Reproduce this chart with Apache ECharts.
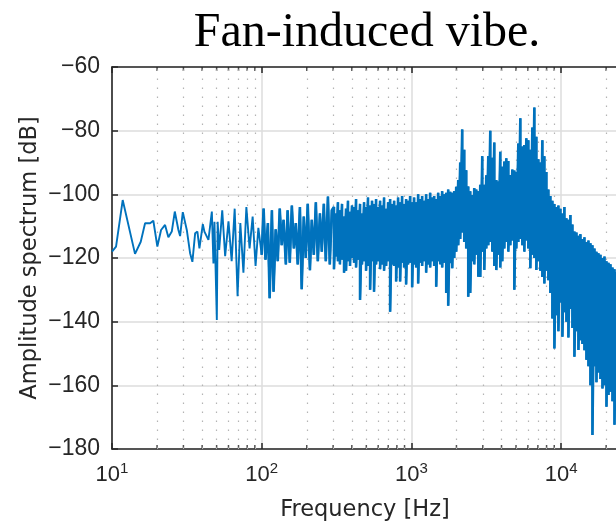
<!DOCTYPE html>
<html><head><meta charset="utf-8">
<script src="https://cdn.jsdelivr.net/npm/echarts@6/dist/echarts.min.js"></script>
<style>html,body{margin:0;padding:0;background:#fff}#c{width:616px;height:525px}</style>
</head><body><div id="c"></div>
<script>
// ---- data ----
const lowFreq = [10, 10.64, 11.79, 14.25, 15.56, 16.63, 17.96, 18.89, 20.09, 21.27, 22.62, 23.8, 25.08, 26.27, 27.77, 28.5, 29.71, 31.6, 33.24, 34.44, 35.93, 37.2, 38.37, 39.38, 40.43, 41.44, 42.55, 44.08, 46.45, 47.6, 48.35, 50.15, 50.8];
const lowAmp = [-118.0, -116.4, -101.8, -118.7, -114.9, -109.1, -109.1, -108.3, -116.4, -111.2, -109.6, -113.5, -111.7, -105.4, -111.2, -113.1, -105.6, -111.2, -118.5, -121.2, -112.2, -111.7, -117, -117, -109.4, -111.7, -112.2, -114.3, -105.4, -121.7, -108.6, -139.5, -108.6];

const midFreqA = [52, 54.5, 57, 60, 63, 66, 69, 72, 75.5, 79, 83, 87, 91, 95];
const midAmpA = [-117.5, -105, -119.4, -108.5, -121, -104.5, -132, -109, -124.6, -104, -117, -107, -122.5, -110.5];

const midFreqB = [100, 103, 106, 110, 113, 117, 120, 124, 128, 132, 136, 140, 145, 149, 154, 159, 164, 169, 174, 180,
  185, 191, 197, 203, 210, 216, 223, 230, 237, 245, 252, 260, 268, 277, 285, 294];
const midAmpB = [-119, -104.5, -120.5, -109, -132.6, -105, -130.6, -111, -121, -104.5, -116, -108, -122, -105, -121.5, -103.5, -117, -109, -122, -104,
  -129.8, -107, -120, -103, -123.8, -108, -119, -102.5, -121, -106, -118, -103, -121, -100.7, -122, -105];

const denseFreq = [304, 313.5, 323, 333, 344, 355, 366, 377, 389, 401,
  414, 427, 440, 454, 468, 483, 498, 513, 530, 546,
  563, 581, 599, 618, 637, 657, 678, 699, 721, 743,
  767, 791, 815, 841, 867, 894, 922, 951, 981, 1012,
  1043, 1076, 1110, 1144, 1180, 1217, 1255, 1295, 1335, 1377,
  1420, 1465, 1510, 1558, 1606, 1657, 1709, 1762, 1817, 1874,
  1933, 1993, 2056, 2120, 2186, 2255, 2325, 2398, 2473, 2551,
  2630, 2713, 2798, 2885, 2975, 3069, 3165, 3264, 3366, 3471,
  3580, 3692, 3807, 3926, 4049, 4176, 4306, 4441, 4580, 4723,
  4871, 5023, 5181, 5343, 5510, 5682, 5860, 6043, 6232, 6428,
  6629, 6836, 7050, 7271, 7498, 7733, 7975, 8224, 8482, 8747,
  9021, 9303, 9594, 9894, 10204, 10523, 10853, 11192, 11543, 11904,
  12276, 12661, 13057, 13465, 13887, 14321, 14769, 15232, 15708, 16200,
  16707, 17229, 17769, 18325, 18898, 19490, 20100, 20729, 21377, 22046,
  22736, 23448, 24181];
const denseHi = [-104, -106, -102.5, -105, -103, -107, -104.5, -102, -105.5, -103.5,
  -104, -101.5, -105, -103, -106, -102.5, -104, -101, -103.5, -102,
  -103, -101.5, -104, -102, -103.5, -101, -104.5, -102.5, -101.5, -103,
  -102, -103.5, -101, -102.5, -100.5, -103, -101.5, -102, -100.5, -102.5,
  -101, -102.5, -100, -101.5, -100.5, -102, -100, -101.5, -99.5, -101,
  -100.5, -101.5, -99.5, -100.5, -99, -100, -99.5, -98.5, -99.2, -99.5,
  -99, -97.6, -95.5, -90, -79.6, -86, -92.4, -97.5, -99, -100.2,
  -98, -98.5, -99, -97, -88, -97, -94, -88, -80, -88.5,
  -83.7, -95.5, -96, -86.6, -91.3, -89.7, -88.7, -89.5, -93.9, -92.2,
  -92.5, -93, -84, -76.1, -85, -84.5, -82.4, -83, -86, -79,
  -72.7, -81.9, -89, -90, -83, -88, -93, -98.5, -100.5, -102,
  -103, -104, -103.5, -104.5, -106, -104, -107.5, -108, -106.5, -109.5,
  -111.7, -112, -113, -112.5, -114, -113.5, -115, -114.5, -115.4, -116,
  -117, -118, -118.5, -119, -120, -119.5, -121, -121.5, -122, -123,
  -123.5, -124.4, -124];
const denseLo = [-123.5, -119.5, -121, -122, -120.5, -124.6, -124, -121, -122.5, -120,
  -121.5, -123, -120.5, -133.2, -122, -121, -124, -122.5, -130, -121,
  -130.6, -122, -121, -123.5, -122, -124, -122.5, -121, -136.9, -122,
  -122.5, -127.4, -123, -127.4, -121.5, -123, -128.3, -122, -121.5, -129.2,
  -122, -123, -128, -121.5, -122.5, -121, -124.6, -122, -123, -121,
  -122.5, -129, -121, -122, -123, -121.5, -131, -135, -121.6, -123.2,
  -120, -118, -116, -114, -112, -115, -117, -132.2, -131, -121,
  -122, -119, -125.9, -126, -118, -123.8, -117, -116, -115, -118,
  -122.5, -123.8, -119, -123, -121, -117, -115, -118, -116, -114.5,
  -130, -117, -115, -114, -116, -118, -114.5, -117, -123.2, -119,
  -120, -123.8, -121, -124, -126, -128, -124, -127, -131, -139,
  -148.4, -138, -143, -134, -144.7, -137, -140, -145, -136, -142,
  -151, -143, -148.9, -145.8, -147, -149, -152, -154, -160, -175.6,
  -154, -159, -156, -158, -161, -160, -166.7, -163, -162, -165,
  -172.4, -168, -170];

const xMajorTicks = [10, 100, 1000, 10000];
const xTickExponents = ['1', '2', '3', '4'];
const xMinorTicks = [20, 30, 40, 50, 60, 70, 80, 90, 200, 300, 400, 500, 600, 700, 800, 900,
  2000, 3000, 4000, 5000, 6000, 7000, 8000, 9000, 20000];
const yTicks = [-180, -160, -140, -120, -100, -80, -60];
const xRange = [10, 24000];

const titleText = 'Fan-induced vibe.';
const xName = 'Frequency [Hz]';
const yName = 'Amplitude spectrum [dB]';

// ---- build series ----
const thickData = [];
midFreqB.forEach((f, i) => thickData.push([f, midAmpB[i]]));
denseFreq.forEach((f, i) => { thickData.push([f, denseHi[i]]); thickData.push([f, denseLo[i]]); });
const lineData = [];
lowFreq.forEach((f, i) => lineData.push([f, lowAmp[i]]));
midFreqA.forEach((f, i) => lineData.push([f, midAmpA[i]]));
thickData.forEach(p => lineData.push(p));

const yMin = yTicks[0], yMax = yTicks[yTicks.length - 1];
const AX = '#262626';
const BLUE = '#0072BD';
const tickFont = 'Liberation Sans';

function xLabel(v) {
  let k = -1;
  xMajorTicks.forEach((t, i) => { if (Math.abs(Math.log10(v / t)) < 0.01) k = i; });
  if (k < 0) return '';
  return '{b|10}{s|' + xTickExponents[k] + '}';
}

const chart = echarts.init(document.getElementById('c'), null, { renderer: 'canvas' });
chart.setOption({
  animation: false,
  backgroundColor: '#fff',
  title: {
    text: titleText, left: 362, top: 4, textAlign: 'center',
    textStyle: { fontFamily: 'Liberation Serif', fontSize: 48, fontWeight: 'normal', color: '#000' }
  },
  grid: { left: 112, top: 67, width: 506, height: 382, outerBoundsMode: 'none', containLabel: false },
  xAxis: [{
    type: 'log', logBase: 10, min: xRange[0], max: xRange[1], position: 'bottom',
    axisLine: { show: true, lineStyle: { color: AX, width: 1.6 } },
    axisTick: { show: true, inside: true, length: 6, lineStyle: { color: AX, width: 1.5 } },
    splitLine: { show: true, lineStyle: { color: '#dcdcdc', width: 1.5 } },
    axisLabel: {
      margin: 12, formatter: xLabel,
      rich: {
        b: { fontFamily: tickFont, fontSize: 22, color: AX },
        s: { fontFamily: tickFont, fontSize: 15, color: AX, padding: [0, 0, 12, 0] }
      }
    },
    name: xName, nameLocation: 'middle', nameGap: 50,
    nameTextStyle: { fontFamily: 'DejaVu Sans', fontSize: 22.5, color: AX }
  }, {
    type: 'log', logBase: 10, min: xRange[0], max: xRange[1], position: 'top',
    axisLine: { show: true, lineStyle: { color: AX, width: 1.6 } },
    axisTick: { show: true, inside: true, length: 6, lineStyle: { color: AX, width: 1.5 } },
    splitLine: { show: false }, axisLabel: { show: false }
  }],
  yAxis: [{
    type: 'value', min: yMin, max: yMax, interval: 20,
    axisLine: { show: true, lineStyle: { color: AX, width: 1.6 } },
    axisTick: { show: true, inside: true, length: 6, lineStyle: { color: AX, width: 1.5 } },
    splitLine: { show: true, lineStyle: { color: '#dcdcdc', width: 1.5 } },
    axisLabel: {
      margin: 12, fontFamily: tickFont, fontSize: 23, color: AX,
      formatter: v => (v < 0 ? '\u2212' : '') + Math.abs(v)
    },
    name: yName, nameLocation: 'middle', nameGap: 70, nameMoveOverlap: false,
    nameTextStyle: { fontFamily: 'DejaVu Sans', fontSize: 22.5, color: AX }
  }],
  series: [{
    type: 'scatter', xAxisIndex: 0, yAxisIndex: 0, silent: true, z: 1,
    symbol: 'rect', symbolSize: [1.5, 4], symbolOffset: [0, -2],
    itemStyle: { color: AX },
    data: xMinorTicks.map(v => [v, yMin]),
    markLine: {
      silent: true, symbol: ['none', 'none'], label: { show: false },
      lineStyle: { type: [1.5, 7.5], color: '#b4b4b4', width: 1.2 },
      data: xMinorTicks.map(v => ({ xAxis: v }))
    }
  }, {
    type: 'scatter', xAxisIndex: 0, yAxisIndex: 0, silent: true, z: 1,
    symbol: 'rect', symbolSize: [1.5, 4], symbolOffset: [0, 2],
    itemStyle: { color: AX },
    data: xMinorTicks.map(v => [v, yMax])
  }, {
    type: 'line', xAxisIndex: 0, yAxisIndex: 0, z: 10,
    showSymbol: false, symbol: 'none', clip: true,
    lineStyle: { color: BLUE, width: 1.9 },
    data: lineData
  }, {
    type: 'line', xAxisIndex: 0, yAxisIndex: 0, z: 11,
    showSymbol: false, symbol: 'none', clip: true,
    lineStyle: { color: BLUE, width: 2.6 },
    data: thickData
  }]
});
</script></body></html>
